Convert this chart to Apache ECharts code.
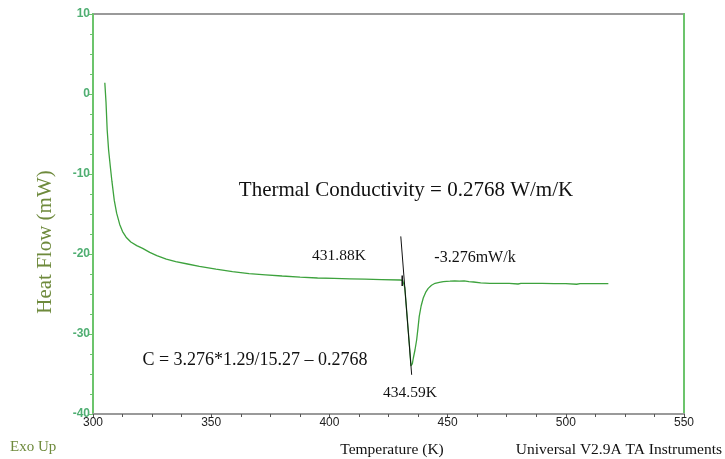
<!DOCTYPE html>
<html lang="en">
<head>
  <meta charset="utf-8">
  <title>Heat flow vs temperature</title>
  <script src="https://cdn.jsdelivr.net/npm/echarts@6/dist/echarts.min.js"></script>
  <style>
    html, body { margin: 0; padding: 0; background: #fff; }
    #chart { width: 725px; height: 459px; }
  </style>
</head>
<body>
<div id="chart"></div>
<script>
  // temperature (K) and heat flow (mW)
  var temps = [305.0, 305.5, 306.0, 306.6, 307.3, 308.0, 309.0, 310.0, 311.3, 312.5, 314.0, 316.0,
    318.5, 321, 324, 327, 331, 335, 340, 345, 352, 359, 366, 373, 380, 387.6, 395, 402, 408.7,
    415, 422, 429.9, 431.0, 431.4, 431.9, 432.9, 433.9, 434.5, 435.1, 435.5, 436.2, 436.9, 437.5,
    438.0, 438.8, 439.7, 440.7, 441.8, 443.2, 444.7, 446.5, 448.2, 451, 453, 455, 457, 459, 461,
    464, 467.9, 472, 476, 479.8, 481, 485, 490, 495, 500, 504.6, 506, 510, 514, 518];
  var heatFlow = [1.4, -1, -4.5, -7, -9, -10.9, -13.3, -14.9, -16.3, -17.2, -17.9, -18.5,
    -18.95, -19.3, -19.8, -20.2, -20.65, -20.95, -21.25, -21.55, -21.9, -22.2, -22.45, -22.6, -22.75, -22.9, -23.0, -23.05, -23.1,
    -23.15, -23.2, -23.25, -23.3, -23.45, -24.2, -27.9, -31.6, -34.0, -33.7, -33.0, -32.0, -30.75, -29.2,
    -27.8, -26.5, -25.5, -24.8, -24.3, -23.9, -23.66, -23.55, -23.45, -23.4, -23.35, -23.4, -23.35, -23.45, -23.5,
    -23.6, -23.67, -23.67, -23.68, -23.75, -23.68, -23.68, -23.68, -23.7, -23.7, -23.78, -23.7, -23.7, -23.7, -23.7];
  // tangent drawn on the leading edge and the onset marker
  var tangentT = [430.2, 434.8];
  var tangentHF = [-17.8, -35.1];
  var onsetT = [430.8, 430.8];
  var onsetHF = [-22.7, -24.0];
  var xTicks = [300, 350, 400, 450, 500, 550];
  var yTicks = [10, 0, -10, -20, -30, -40];

  function pairs(xs, ys) {
    return xs.map(function (x, i) { return [x, ys[i]]; });
  }

  var green = '#6cc46c';
  var serif = '"Liberation Serif", "DejaVu Serif", serif';
  var sans = '"Liberation Sans", Arial, sans-serif';

  var chart = echarts.init(document.getElementById('chart'));
  chart.setOption({
    animation: false,
    grid: {
      left: 93, right: 41, top: 14, bottom: 45,
      show: true, borderColor: '#9a9a9a', borderWidth: 2
    },
    xAxis: {
      type: 'value', min: xTicks[0], max: xTicks[xTicks.length - 1], interval: 50,
      axisLine: { show: true, onZero: false, lineStyle: { color: '#9a9a9a', width: 2 } },
      axisTick: { show: true, length: 4, lineStyle: { color: '#555' } },
      minorTick: { show: true, splitNumber: 4, length: 3, lineStyle: { color: '#555' } },
      axisLabel: { color: '#222', fontFamily: sans, fontSize: 12, margin: 3 },
      splitLine: { show: false }
    },
    yAxis: [{
      type: 'value', min: yTicks[yTicks.length - 1], max: yTicks[0], interval: 10,
      axisLine: { show: true, lineStyle: { color: green, width: 2 } },
      axisTick: { show: true, length: 5, lineStyle: { color: green } },
      minorTick: { show: true, splitNumber: 4, length: 3, lineStyle: { color: green } },
      axisLabel: { color: '#4fae72', fontFamily: sans, fontSize: 12, fontWeight: 'bold', margin: 3 },
      splitLine: { show: false }
    }, {
      type: 'value', position: 'right', min: -40, max: 10, interval: 10,
      axisLine: { show: true, lineStyle: { color: green, width: 2 } },
      axisTick: { show: false }, axisLabel: { show: false }, splitLine: { show: false }
    }],
    series: [{
      type: 'line', data: pairs(temps, heatFlow), showSymbol: false,
      lineStyle: { color: '#3da23d', width: 1.3 }, z: 3
    }, {
      type: 'line', data: pairs(tangentT, tangentHF), showSymbol: false,
      lineStyle: { color: '#111', width: 1 }, z: 4
    }, {
      type: 'line', data: pairs(onsetT, onsetHF), showSymbol: false,
      lineStyle: { color: '#111', width: 1.5 }, z: 4
    }],
    graphic: [
      { type: 'text', x: 45, y: 242, rotation: Math.PI / 2,
        style: { text: 'Heat Flow (mW)', fill: '#6e8a3c', font: '21px ' + serif, textAlign: 'center', textVerticalAlign: 'middle' } },
      { type: 'text', x: 10, y: 447,
        style: { text: 'Exo Up', fill: '#6e8a3c', font: '15px ' + serif, textAlign: 'left', textVerticalAlign: 'middle' } },
      { type: 'text', x: 392, y: 450,
        style: { text: 'Temperature (K)', fill: '#111', font: '15.5px ' + serif, textAlign: 'center', textVerticalAlign: 'middle' } },
      { type: 'text', x: 722, y: 450,
        style: { text: 'Universal V2.9A TA Instruments', fill: '#111', font: '15.5px ' + serif, textAlign: 'right', textVerticalAlign: 'middle' } },
      { type: 'text', x: 406, y: 190,
        style: { text: 'Thermal Conductivity = 0.2768 W/m/K', fill: '#111', font: '21px ' + serif, textAlign: 'center', textVerticalAlign: 'middle' } },
      { type: 'text', x: 339, y: 256,
        style: { text: '431.88K', fill: '#111', font: '15.5px ' + serif, textAlign: 'center', textVerticalAlign: 'middle' } },
      { type: 'text', x: 475, y: 258,
        style: { text: '-3.276mW/k', fill: '#111', font: '16px ' + serif, textAlign: 'center', textVerticalAlign: 'middle' } },
      { type: 'text', x: 255, y: 360,
        style: { text: 'C = 3.276*1.29/15.27 \u2013 0.2768', fill: '#111', font: '18px ' + serif, textAlign: 'center', textVerticalAlign: 'middle' } },
      { type: 'text', x: 410, y: 393,
        style: { text: '434.59K', fill: '#111', font: '15.5px ' + serif, textAlign: 'center', textVerticalAlign: 'middle' } }
    ]
  });
</script>
</body>
</html>
